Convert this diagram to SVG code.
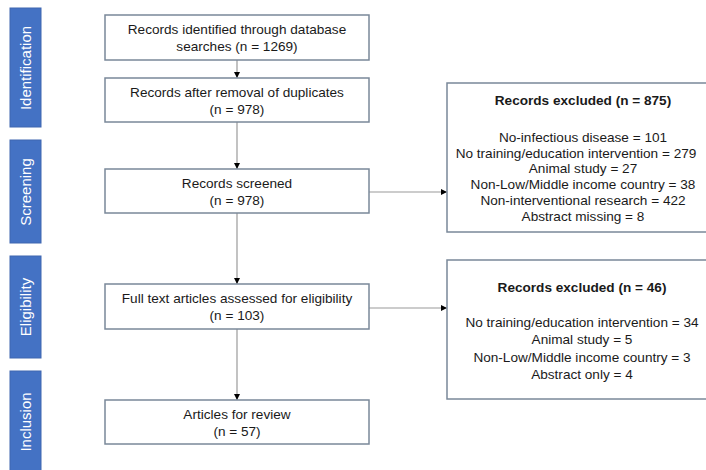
<svg xmlns="http://www.w3.org/2000/svg" width="706" height="470" viewBox="0 0 706 470">
<style>
.bar{fill:#4472c4;stroke:#3f66b0;stroke-width:1}
.bt{fill:#ffffff;font-family:"Liberation Sans",Arial,sans-serif;font-size:15px;text-anchor:middle}
.box{fill:#ffffff;stroke:#7a8899;stroke-width:1.5}
.t{fill:#1a1a1a;font-family:"Liberation Sans",Arial,sans-serif;font-size:13.6px;text-anchor:middle}
.tb{font-weight:bold}
.c{stroke:#9a9a9a;stroke-width:1.2;fill:none;marker-end:url(#ah)}
</style>
<defs>
<marker id="ah" viewBox="0 0 10 10" refX="10" refY="5" markerWidth="6" markerHeight="6" markerUnits="userSpaceOnUse" orient="auto">
<path d="M0,0 L10,5 L0,10 z" fill="#000000"/>
</marker>
</defs>
<rect width="706" height="470" fill="#ffffff"/>
<g id="phase-identification"><rect class="bar" x="10" y="8" width="31" height="119"/><text class="bt" transform="translate(31,68) rotate(-90)">Identification</text></g>
<g id="phase-screening"><rect class="bar" x="10" y="140" width="31" height="103"/><text class="bt" transform="translate(31,192) rotate(-90)">Screening</text></g>
<g id="phase-eligibility"><rect class="bar" x="10" y="256" width="31" height="102"/><text class="bt" transform="translate(31,307) rotate(-90)">Eligibility</text></g>
<g id="phase-inclusion"><rect class="bar" x="10" y="371" width="31" height="110"/><text class="bt" transform="translate(31,422) rotate(-90)">Inclusion</text></g>
<g id="connectors">
<line class="c" x1="237" y1="60" x2="237" y2="78"/>
<line class="c" x1="237" y1="122" x2="237" y2="169"/>
<line class="c" x1="237" y1="213" x2="237" y2="284"/>
<line class="c" x1="237" y1="329" x2="237" y2="400"/>
<line class="c" x1="369" y1="192" x2="447" y2="192"/>
<line class="c" x1="369" y1="308" x2="447" y2="308"/>
</g>
<g id="n1"><rect class="box" x="105" y="15" width="264" height="45"/><text class="t" x="237" y="34">Records identified through database</text><text class="t" x="237" y="51">searches (n = 1269)</text></g>
<g id="n2"><rect class="box" x="105" y="78" width="264" height="44"/><text class="t" x="237" y="97">Records after removal of duplicates</text><text class="t" x="237" y="114">(n = 978)</text></g>
<g id="n3"><rect class="box" x="105" y="169" width="264" height="44"/><text class="t" x="237" y="188">Records screened</text><text class="t" x="237" y="205">(n = 978)</text></g>
<g id="n4"><rect class="box" x="105" y="284" width="264" height="45"/><text class="t" x="237" y="303">Full text articles assessed for eligibility</text><text class="t" x="237" y="320">(n = 103)</text></g>
<g id="n5"><rect class="box" x="105" y="400" width="264" height="44"/><text class="t" x="237" y="419">Articles for review</text><text class="t" x="237" y="436">(n = 57)</text></g>
<g id="ex1"><rect class="box" x="447" y="83" width="280" height="149"/>
<text class="t tb" x="583" y="105">Records excluded (n = 875)</text>
<text class="t" x="583" y="142">No-infectious disease = 101</text>
<text class="t" x="576" y="158">No training/education intervention = 279</text>
<text class="t" x="583" y="173">Animal study = 27</text>
<text class="t" x="583" y="189">Non-Low/Middle income country = 38</text>
<text class="t" x="583" y="205">Non-interventional research = 422</text>
<text class="t" x="583" y="221">Abstract missing = 8</text>
</g>
<g id="ex2"><rect class="box" x="447" y="260" width="280" height="139"/>
<text class="t tb" x="582" y="292">Records excluded (n = 46)</text>
<text class="t" x="582" y="327">No training/education intervention = 34</text>
<text class="t" x="582" y="344">Animal study = 5</text>
<text class="t" x="582" y="362">Non-Low/Middle income country = 3</text>
<text class="t" x="582" y="379">Abstract only = 4</text>
</g>
</svg>
